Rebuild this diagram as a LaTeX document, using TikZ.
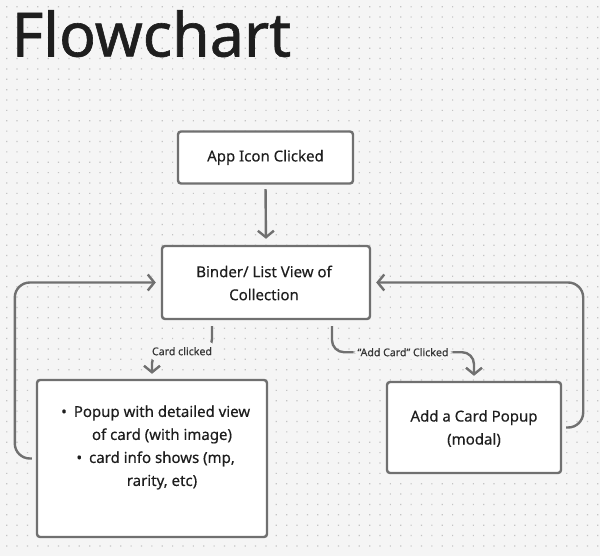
\documentclass[tikz,border=0pt]{standalone}
\usepackage{fontspec}
\setmainfont[FakeBold=0.35]{Noto Sans}
\newfontfamily\titlefont[FakeBold=1.0]{Noto Sans}
\usetikzlibrary{arrows.meta}
\definecolor{bgc}{RGB}{245,245,245}
\definecolor{dotc}{RGB}{196,196,196}
\definecolor{linec}{RGB}{112,112,112}
\definecolor{txtc}{RGB}{30,30,30}
\definecolor{lblc}{RGB}{55,55,55}
\tikzset{
  box/.style={draw=linec, line width=2.4pt, fill=white, rounded corners=3pt, inner sep=0pt},
  boxtext/.style={text=txtc, align=center, font=\fontsize{15}{23}\selectfont\bfseries},
  conn/.style={draw=linec, line width=2.4pt, -{Straight Barb[length=6.5pt,width=16pt]}},
  lbl/.style={fill=bgc, text=lblc, font=\fontsize{10.6}{12}\selectfont, inner xsep=4pt, inner ysep=7pt},
}
\begin{document}
\begin{tikzpicture}[x=1pt,y=-1pt]
\useasboundingbox (0,0) rectangle (600,556);
\fill[bgc] (0,0) rectangle (600,556);
\fill[dotc] \foreach \i in {0,...,57} { \foreach \j in {0,...,52} { ({6.1+10.37*\i},{6.1+10.37*\j}) rectangle ++(1.2,1.2) } };

\node[anchor=base west, text=txtc, font=\titlefont\fontsize{61}{70}\selectfont\bfseries, inner sep=0pt] (title) at (11.5,56.5) {Flowchart};

\node[box, minimum width=175pt, minimum height=52pt] (app) at (265.5,157.5) {};
\node[boxtext] (apptext) at (app.center) {App Icon Clicked};

\node[box, minimum width=208pt, minimum height=73pt] (bind) at (266,282.5) {};
\node[boxtext] (bindtext) at (264,283) {Binder/ List View of\\Collection};

\node[box, minimum width=230pt, minimum height=157pt] (popup) at (152,458.5) {};
\node[boxtext] (poptext) at (162,447.5) {\llap{•\hspace{7pt}}Popup with detailed view\\of card (with image)\\\llap{•\hspace{7pt}}card info shows (mp,\\rarity, etc)};

\node[box, minimum width=174pt, minimum height=91pt] (add) at (474,427.5) {};
\node[boxtext] (addtext) at (474,428.5) {Add a Card Popup\\(modal)};

\draw[conn, shorten <=4.5pt, shorten >=6pt] (app.south) -- (bind.north);

\draw[conn, rounded corners=12pt, shorten <=6pt, shorten >=5pt]
  ([xshift=-54pt]bind.south) -- ++(0,31) -| node[pos=0.25, lbl] (lcard) {Card clicked} (popup.north);

\draw[conn, rounded corners=12pt, shorten <=6pt, shorten >=5pt]
  ([xshift=66pt]bind.south) -- ++(0,32) -| node[pos=0.25, lbl, inner ysep=3pt] (ladd) {“Add Card” Clicked} (add.north);

\draw[conn, rounded corners=15pt, shorten <=4pt, shorten >=5pt]
  (popup.west) -- ++(-21,0) |- (bind.west);

\draw[conn, rounded corners=15pt, shorten <=4pt, shorten >=5pt]
  (add.east) -- ++(21,0) |- (bind.east);
\end{tikzpicture}
\end{document}
